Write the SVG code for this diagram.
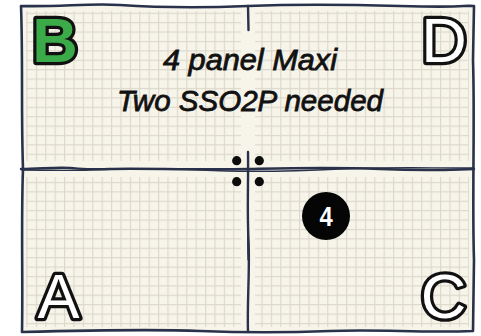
<svg xmlns="http://www.w3.org/2000/svg" width="481" height="336" viewBox="0 0 481 336">
<style>
.ink{fill:none;stroke:#29324a;stroke-linecap:round;stroke-linejoin:round}
.big{font-family:"Liberation Sans",Arial,sans-serif;font-size:63px;stroke:#111;stroke-width:6.5;paint-order:stroke;stroke-linejoin:round;text-anchor:middle}
.hand{font-family:"Liberation Sans",Arial,sans-serif;font-style:italic;font-size:30px;fill:#111;stroke:#111;stroke-width:0.8;text-anchor:middle}
.dot{fill:#0c0c0c}
</style>
<defs>
<pattern id="grid" patternUnits="userSpaceOnUse" x="26.4" y="12.7" width="9.4" height="9.4">
<path d="M0.6,0 V9.4 M0,0.6 H9.4" stroke="#dcd8cc" stroke-width="1.2" fill="none"/>
</pattern>
</defs>
<rect width="481" height="336" fill="#ffffff"/>
<path id="sheet" d="M21,6 C60,7 90,3 120,5 S200,8 248,6 S330,4 400,6 S460,5 474,6 L473,60 C475,120 472,200 474,260 L473,331 C420,333 380,329 330,331 S250,333 200,331 S100,330 22,332 C23,280 21,220 23,169 C21,110 23,60 21,6 Z" fill="#f7f4ea"/>
<g id="panel-B">
<rect x="26" y="11" width="215" height="150" fill="url(#grid)"/>
<text class="big" x="55" y="62" fill="#3bab4a" font-weight="bold" font-size="62" stroke-width="5.5">B</text>
</g>
<g id="panel-D">
<rect x="255" y="11" width="214" height="150" fill="url(#grid)"/>
<text class="big" x="444" y="62" fill="#ffffff">D</text>
</g>
<g id="panel-A">
<rect x="26" y="177" width="215" height="150" fill="url(#grid)"/>
<text class="big" x="58.5" y="318" fill="#ffffff">A</text>
</g>
<g id="panel-C">
<rect x="255" y="177" width="214" height="150" fill="url(#grid)"/>
<text class="big" x="443.5" y="318" fill="#ffffff">C</text>
</g>
<g id="title">
<text class="hand" x="250" y="70" textLength="174" lengthAdjust="spacingAndGlyphs">4 panel Maxi</text>
<text class="hand" x="250" y="111" textLength="266" lengthAdjust="spacingAndGlyphs">Two SSO2P needed</text>
</g>
<g id="connectors">
<path class="ink" stroke-width="2.6" d="M21,6 C60,7 90,3 120,5 S200,8 248,6 S330,4 400,6 S460,5 474,6 L473,60 C475,120 472,200 474,260 L473,331 C420,333 380,329 330,331 S250,333 200,331 S100,330 22,332 C23,280 21,220 23,169 C21,110 23,60 21,6 Z"/>
<path class="ink" stroke-width="2.4" d="M21,169 C40,169 55,167 70,168 S90,170 110,169 S200,170 248,169 S330,167 380,169 S440,170 474,169"/>
<path class="ink" stroke-width="1.4" d="M22,170 C50,170 70,171 90,170 S160,168 200,170 S300,171 340,169 S420,168 473,168"/>
<path class="ink" stroke-width="2.4" d="M248,6 L248.5,30"/>
<path class="ink" stroke-width="2.4" d="M248,152 C248.5,180 247,210 248.5,240 S247,300 248,332"/>
<path class="ink" stroke-width="1.2" d="M247.5,170 C248.8,200 246.8,230 248,260"/>
</g>
<g id="marker">
<circle class="dot" cx="236.7" cy="160.7" r="4.6"/>
<circle class="dot" cx="259.3" cy="160.7" r="4.6"/>
<circle class="dot" cx="236.7" cy="181.7" r="4.6"/>
<circle class="dot" cx="259.3" cy="181.7" r="4.6"/>
</g>
<g id="badge">
<circle cx="326" cy="216" r="24" fill="#050505"/>
<text x="326" y="226" font-family="Liberation Sans,Arial,sans-serif" font-weight="bold" font-size="28" fill="#ffffff" text-anchor="middle" transform="translate(326 0) scale(0.85 1) translate(-326 0)">4</text>
</g>
</svg>
